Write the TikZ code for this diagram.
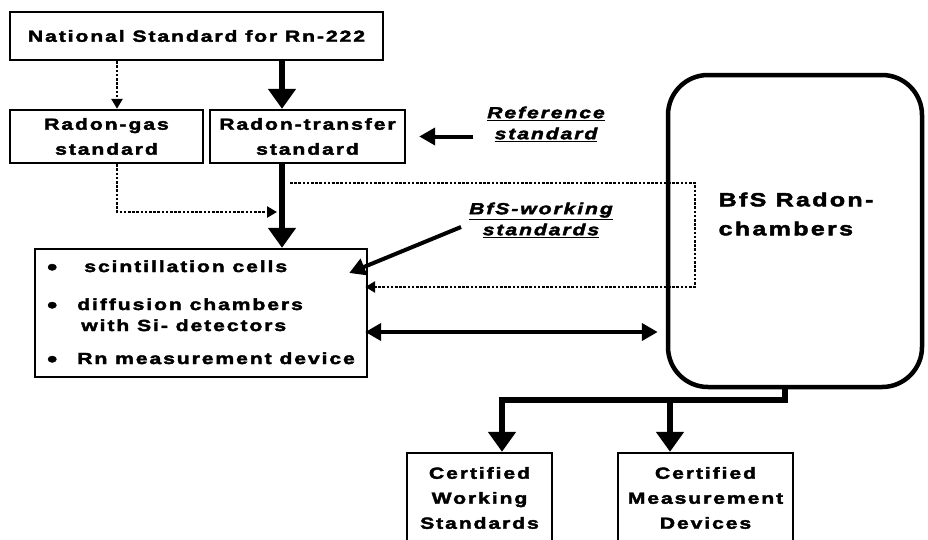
\documentclass[tikz,border=0pt]{standalone}
\usepackage{fontspec}
\setmainfont{Liberation Sans}[FakeStretch=1.32, LetterSpace=12, FakeBold=2.5]
\usetikzlibrary{arrows.meta}

\newcommand{\blt}{\raisebox{-2.5pt}{\fontsize{22}{22}\selectfont\textbullet}}

\tikzset{
  box/.style={draw, line width=2.4pt, inner sep=0pt, align=center,
    font=\bfseries\fontsize{16}{25}\selectfont},
  lbl/.style={inner sep=0pt, align=center,
    font=\bfseries\itshape\fontsize{16}{21}\selectfont},
  bigarrow/.style={-{Triangle[length=20pt,width=27pt]}, line width=5.5pt},
  midarrow/.style={-{Triangle[length=16pt,width=17pt]}, line width=4pt},
  dotarrow/.style={-{Triangle[length=10pt,width=11pt]}, line width=2.8pt,
    dash pattern=on 2.6pt off 1.6pt},
}

\begin{document}
\begin{tikzpicture}[x=1pt,y=-1pt]
\useasboundingbox (0,0) rectangle (928,539);

%% boxes
\node[box, minimum width=373, minimum height=48] (national) at (196.5,36) {National Standard for Rn-222};
\node[box, minimum width=193, minimum height=53] (gas) at (106.5,136.5) {Radon-gas\\standard};
\node[box, minimum width=195, minimum height=53] (transfer) at (307.5,136.5) {Radon-transfer\\standard};
\node[box, minimum width=332, minimum height=128] (main) at (201,313) {%
  \begin{tabular}{@{}l@{\hspace{20pt}}l@{}}
  \blt & \hspace{7pt}scintillation cells\\[13pt]
  \blt & diffusion chambers\\[-4pt]
       & \hspace{4pt}with Si- detectors\\[8pt]
  \blt & Rn measurement device
  \end{tabular}};
\node[draw, line width=4.5pt, rounded corners=40pt, minimum width=254, minimum height=312] (chamber) at (795,231) {};
\node[box, minimum width=145, minimum height=90] (cws) at (479.5,498) {Certified\\Working\\Standards};
\node[box, minimum width=175, minimum height=90] (cmd) at (705.5,498) {Certified\\Measurement\\Devices};

%% labels
\node[lbl] (reflabel) at (546,124) {\underline{Reference}\\\underline{standard}};
\node[lbl] (wlabel) at (541,220) {\underline{BfS-working}\\\underline{standards}};
\node[inner sep=0pt, align=left, font=\bfseries\fontsize{19}{29}\selectfont] (chambertitle) at (796,214) {BfS Radon-\\chambers};

%% helper coordinates
\coordinate (gasline) at (117,0);
\coordinate (spine) at (282,0);
\coordinate (gasjoin) at (277,212);
\coordinate (loopstart) at (290,183);
\coordinate (looptop) at (695,183);
\coordinate (loopbottom) at (695,287);
\coordinate (dblrow) at (0,332);
\coordinate (chamberline) at (785,0);
\coordinate (forkrow) at (0,400);
\coordinate (cwsline) at (502,0);
\coordinate (cmdline) at (670,0);

%% connectors
\draw[dotarrow] (national.south -| gasline) -- (gas.north -| gasline);        %% national - gas
\draw[bigarrow] (national.south -| spine) -- (transfer.north -| spine);       %% national - transfer
\draw[bigarrow] (transfer.south -| spine) -- (main.north -| spine);           %% transfer - main
\draw[dotarrow] (gas.south -| gasline) |- (gasjoin);                          %% gas - main
\draw[midarrow, shorten <=14pt, shorten >=13pt] (transfer.east -| reflabel.west) -- (transfer.east);   %% reference
\draw[midarrow] ([xshift=-8pt,yshift=-7pt]wlabel.west) -- ([xshift=-19pt,yshift=40pt]main.east);       %% working standards
\draw[dotarrow, shorten >=-3pt] (loopstart) -- (looptop) -- (loopbottom) -- (loopbottom -| main.east);  %% loop
\draw[{Triangle[length=16pt,width=17pt]}-{Triangle[length=16pt,width=17pt]}, line width=4pt,
      shorten <=-3pt, shorten >=8pt] (main.east |- dblrow) -- (chamber.west |- dblrow);                 %% main - chamber
\draw[bigarrow] (chamber.south -| chamberline) |- (forkrow -| cwsline) -- (cws.north -| cwsline);       %% chamber - cws
\draw[bigarrow] (forkrow -| cmdline) -- (cmd.north -| cmdline);                                         %% chamber - cmd
\end{tikzpicture}
\end{document}
